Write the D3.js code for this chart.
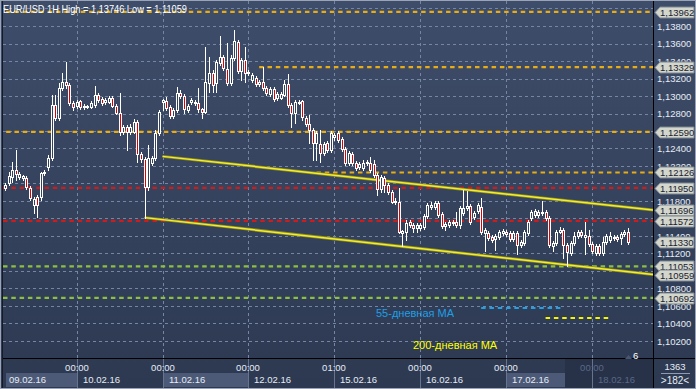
<!DOCTYPE html>
<html><head><meta charset="utf-8">
<script src="https://cdn.jsdelivr.net/npm/d3@7"></script>
<style>body{margin:0;background:#2f3b54;}svg{display:block;font-family:"Liberation Sans",Arial,sans-serif;}</style>
</head><body><svg id="c" width="696" height="389"></svg>
<script>
const titleText = "EUR/USD 1H High = 1,13746 Low = 1,11059";
const openP = [1.1195,1.1201,1.1207,1.1215,1.1207,1.1206,1.1206,1.1195,1.1175,1.1185,1.1185,1.1212,1.1219,1.1229,1.1290,1.1275,1.1309,1.1316,1.1313,1.1292,1.1289,1.1294,1.1287,1.1287,1.1287,1.1290,1.1301,1.1297,1.1293,1.1293,1.1298,1.1289,1.1281,1.1259,1.1265,1.1259,1.1259,1.1270,1.1234,1.1228,1.1196,1.1223,1.1229,1.1258,1.1293,1.1294,1.1287,1.1277,1.1284,1.1303,1.1300,1.1284,1.1293,1.1292,1.1292,1.1285,1.1282,1.1315,1.1326,1.1315,1.1338,1.1345,1.1331,1.1315,1.1343,1.1362,1.1329,1.1341,1.1326,1.1318,1.1321,1.1314,1.1316,1.1309,1.1302,1.1308,1.1298,1.1298,1.1301,1.1314,1.1290,1.1281,1.1292,1.1294,1.1275,1.1268,1.1261,1.1246,1.1245,1.1235,1.1246,1.1238,1.1253,1.1258,1.1251,1.1239,1.1223,1.1234,1.1223,1.1219,1.1218,1.1223,1.1223,1.1222,1.1210,1.1194,1.1206,1.1198,1.1190,1.1179,1.1179,1.1143,1.1145,1.1156,1.1153,1.1149,1.1149,1.1150,1.1163,1.1173,1.1173,1.1178,1.1165,1.1151,1.1153,1.1155,1.1156,1.1153,1.1166,1.1172,1.1174,1.1162,1.1169,1.1173,1.1143,1.1143,1.1139,1.1137,1.1139,1.1143,1.1145,1.1143,1.1137,1.1143,1.1130,1.1132,1.1143,1.1161,1.1164,1.1164,1.1166,1.1167,1.1161,1.1129,1.1132,1.1145,1.1147,1.1130,1.1121,1.1132,1.1140,1.1145,1.1139,1.1140,1.1131,1.1121,1.1129,1.1121,1.1133,1.1135,1.1138,1.1139,1.1138,1.1142,1.1145];
const highP = [1.1201,1.1213,1.1225,1.1238,1.1213,1.1210,1.1209,1.1197,1.1185,1.1187,1.1213,1.1215,1.1233,1.1301,1.1301,1.1315,1.1326,1.1339,1.1315,1.1294,1.1295,1.1295,1.1291,1.1290,1.1294,1.1311,1.1303,1.1299,1.1298,1.1300,1.1300,1.1291,1.1303,1.1267,1.1267,1.1268,1.1274,1.1273,1.1236,1.1230,1.1244,1.1231,1.1261,1.1284,1.1297,1.1299,1.1290,1.1286,1.1310,1.1307,1.1302,1.1291,1.1298,1.1295,1.1309,1.1286,1.1356,1.1345,1.1330,1.1341,1.1369,1.1347,1.1361,1.1347,1.1375,1.1364,1.1343,1.1356,1.1330,1.1326,1.1323,1.1318,1.1333,1.1311,1.1310,1.1310,1.1305,1.1305,1.1318,1.1325,1.1292,1.1295,1.1295,1.1295,1.1277,1.1278,1.1263,1.1260,1.1261,1.1247,1.1249,1.1260,1.1258,1.1260,1.1253,1.1242,1.1237,1.1236,1.1226,1.1225,1.1227,1.1227,1.1230,1.1227,1.1212,1.1210,1.1209,1.1201,1.1193,1.1183,1.1195,1.1147,1.1158,1.1158,1.1155,1.1155,1.1155,1.1165,1.1178,1.1179,1.1180,1.1180,1.1167,1.1156,1.1158,1.1158,1.1167,1.1174,1.1193,1.1191,1.1177,1.1169,1.1178,1.1183,1.1149,1.1146,1.1141,1.1142,1.1147,1.1148,1.1147,1.1146,1.1146,1.1146,1.1135,1.1147,1.1158,1.1170,1.1171,1.1170,1.1180,1.1170,1.1163,1.1134,1.1147,1.1150,1.1149,1.1132,1.1134,1.1145,1.1147,1.1147,1.1156,1.1147,1.1133,1.1131,1.1131,1.1139,1.1142,1.1145,1.1141,1.1141,1.1145,1.1147,1.1149];
const lowP = [1.1193,1.1198,1.1202,1.1204,1.1205,1.1204,1.1194,1.1181,1.1166,1.1162,1.1181,1.1210,1.1215,1.1227,1.1273,1.1273,1.1307,1.1309,1.1290,1.1284,1.1286,1.1285,1.1285,1.1286,1.1286,1.1287,1.1293,1.1290,1.1291,1.1292,1.1287,1.1279,1.1255,1.1257,1.1238,1.1257,1.1258,1.1225,1.1225,1.1161,1.1193,1.1221,1.1227,1.1255,1.1284,1.1284,1.1275,1.1275,1.1282,1.1298,1.1281,1.1282,1.1291,1.1290,1.1282,1.1275,1.1281,1.1305,1.1305,1.1305,1.1335,1.1330,1.1313,1.1313,1.1341,1.1326,1.1318,1.1316,1.1324,1.1316,1.1311,1.1311,1.1307,1.1301,1.1300,1.1294,1.1295,1.1297,1.1300,1.1287,1.1265,1.1269,1.1291,1.1273,1.1266,1.1246,1.1227,1.1227,1.1225,1.1233,1.1236,1.1236,1.1250,1.1247,1.1237,1.1221,1.1221,1.1221,1.1215,1.1217,1.1215,1.1221,1.1213,1.1207,1.1187,1.1190,1.1190,1.1188,1.1178,1.1177,1.1143,1.1129,1.1135,1.1150,1.1145,1.1145,1.1147,1.1148,1.1161,1.1171,1.1171,1.1162,1.1149,1.1147,1.1150,1.1153,1.1150,1.1149,1.1164,1.1170,1.1154,1.1159,1.1166,1.1142,1.1123,1.1135,1.1133,1.1124,1.1137,1.1141,1.1140,1.1134,1.1134,1.1119,1.1127,1.1130,1.1141,1.1158,1.1162,1.1162,1.1164,1.1158,1.1127,1.1123,1.1130,1.1143,1.1115,1.1106,1.1118,1.1130,1.1138,1.1139,1.1119,1.1129,1.1121,1.1118,1.1118,1.1118,1.1131,1.1133,1.1135,1.1134,1.1131,1.1140,1.1131];
const closeP = [1.1198,1.1209,1.1215,1.1211,1.1211,1.1209,1.1196,1.1183,1.1182,1.1175,1.1212,1.1213,1.1229,1.1290,1.1275,1.1309,1.1316,1.1313,1.1292,1.1287,1.1293,1.1287,1.1289,1.1289,1.1292,1.1301,1.1295,1.1292,1.1295,1.1298,1.1289,1.1281,1.1259,1.1265,1.1259,1.1265,1.1270,1.1234,1.1228,1.1196,1.1229,1.1229,1.1258,1.1282,1.1295,1.1286,1.1277,1.1284,1.1303,1.1300,1.1285,1.1289,1.1295,1.1293,1.1285,1.1282,1.1316,1.1326,1.1313,1.1339,1.1345,1.1332,1.1315,1.1343,1.1363,1.1329,1.1341,1.1326,1.1327,1.1324,1.1314,1.1316,1.1309,1.1303,1.1308,1.1297,1.1302,1.1302,1.1314,1.1290,1.1281,1.1293,1.1293,1.1276,1.1268,1.1261,1.1246,1.1258,1.1235,1.1245,1.1238,1.1258,1.1255,1.1250,1.1239,1.1223,1.1235,1.1223,1.1218,1.1222,1.1223,1.1225,1.1215,1.1210,1.1194,1.1207,1.1198,1.1190,1.1179,1.1180,1.1145,1.1146,1.1155,1.1153,1.1149,1.1153,1.1153,1.1163,1.1175,1.1175,1.1178,1.1164,1.1151,1.1154,1.1156,1.1156,1.1153,1.1172,1.1172,1.1174,1.1156,1.1166,1.1175,1.1145,1.1147,1.1138,1.1135,1.1140,1.1145,1.1146,1.1142,1.1137,1.1143,1.1130,1.1133,1.1145,1.1156,1.1167,1.1169,1.1167,1.1167,1.1161,1.1130,1.1132,1.1145,1.1147,1.1130,1.1122,1.1132,1.1140,1.1145,1.1141,1.1141,1.1131,1.1123,1.1129,1.1121,1.1133,1.1140,1.1140,1.1139,1.1137,1.1142,1.1145,1.1133];

const gridTicks = [1.140,1.138,1.136,1.134,1.132,1.130,1.128,1.126,1.124,1.122,1.120,1.118,1.116,1.114,1.112,1.110,1.108,1.106,1.104,1.102];
const timeTickBars = [20,44,68,92,116,140,164];
const timeTickLabels = ["00:00","00:00","00:00","01:00","00:00","00:00","00:00"];
const dateLabels = ["09.02.16","10.02.16","11.02.16","12.02.16","15.02.16","16.02.16","17.02.16","18.02.16"];

const orangeLevels = [1.13962,1.13329,1.12590,1.12126];
const orangeStartBar = [-2,71,-2,87];
const redLevels = [1.11950,1.11572];
const greenLevels = [1.11053,1.10692];
const ma55 = [1.10577]; const ma55Bars = [133,156];
const ma200 = [1.10463]; const ma200Bars = [151,169];
const channelUpper = [[44,1.1231],[181,1.11696]];
const channelLower = [[39,1.1161],[181,1.10959]];
const priceTags = [1.13962,1.13329,1.12590,1.12126,1.11950,1.11696,1.11572,1.11330,1.11053,1.10959,1.10692];
const barsCount = "1363", visibleBars = ">182<", shiftLabel = "6";
const ma55Label = "55-дневная МА", ma200Label = "200-дневная МА";

const W = 696, H = 389;
const PL = 3, PR = 653, PT = 1, PB = 358;
const svg = d3.select('#c');
const defs = svg.append('defs');
const bg = defs.append('linearGradient').attr('id','bg').attr('x1',0).attr('y1',0).attr('x2',0).attr('y2',1);
bg.append('stop').attr('offset','0%').attr('stop-color','#3e4d6a');
bg.append('stop').attr('offset','100%').attr('stop-color','#2d3951');
defs.append('clipPath').attr('id','clip').append('rect').attr('x',PL).attr('y',PT).attr('width',PR-PL).attr('height',PB-PT);

svg.append('rect').attr('width',W).attr('height',H).attr('fill','url(#bg)');

const x = d3.scaleLinear().domain([0,181]).range([5,653]);
const y = d3.scaleLinear().domain([1.138,1.102]).range([26,341]);
const fmt = v => d3.format('.5f')(v).replace('.',',');
const px = v => Math.round(v);

// x-axis panel decorations
const axisG = svg.append('g');
axisG.append('rect').attr('x',6).attr('y',373).attr('width',px(x(timeTickBars[0]))-6).attr('height',14).attr('fill','#4c5a77');
axisG.append('rect').attr('x',px(x(timeTickBars[1]))).attr('y',373).attr('width',px(x(timeTickBars[2]))-px(x(timeTickBars[1]))).attr('height',14).attr('fill','#4c5a77');
axisG.append('rect').attr('x',px(x(timeTickBars[5]))).attr('y',373).attr('width',565-px(x(timeTickBars[5]))).attr('height',14).attr('fill','#4c5a77');
axisG.append('rect').attr('x',565).attr('y',359).attr('width',PR-565).attr('height',29).attr('fill','#273249');

const plot = svg.append('g').attr('clip-path','url(#clip)');
// grid
plot.selectAll('.hg').data(gridTicks).enter().append('line')
  .attr('x1',PL).attr('x2',PR).attr('y1',d=>px(y(d))+0.5).attr('y2',d=>px(y(d))+0.5)
  .attr('stroke','#7585a3').attr('stroke-width',1).attr('stroke-dasharray','3,3');
plot.selectAll('.vg').data(timeTickBars).enter().append('line')
  .attr('x1',d=>px(x(d))+0.5).attr('x2',d=>px(x(d))+0.5).attr('y1',PT).attr('y2',PB)
  .attr('stroke','#7585a3').attr('stroke-width',1).attr('stroke-dasharray','3,3');
// x-axis separators
svg.selectAll('.vs').data(timeTickBars).enter().append('line')
  .attr('x1',d=>px(x(d))+0.5).attr('x2',d=>px(x(d))+0.5).attr('y1',PB+1).attr('y2',388)
  .attr('stroke','#66748f').attr('stroke-width',1);

// level lines
const lvl = (price, x1, color) => plot.append('line')
  .attr('x1',x1).attr('x2',PR).attr('y1',y(price)).attr('y2',y(price))
  .attr('stroke',color).attr('stroke-width',2.2).attr('stroke-dasharray','4.5,3.8');
orangeLevels.forEach((p,i)=>lvl(p, x(orangeStartBar[i]), '#e8ad14'));
redLevels.forEach(p=>lvl(p, PL, '#cc1c1c'));
greenLevels.forEach(p=>lvl(p, PL, '#8cc043'));
plot.append('line').attr('x1',x(ma55Bars[0])).attr('x2',x(ma55Bars[1])).attr('y1',y(ma55[0])).attr('y2',y(ma55[0]))
  .attr('stroke','#1ea2e8').attr('stroke-width',2.2).attr('stroke-dasharray','4.5,3.8');
plot.append('line').attr('x1',x(ma200Bars[0])).attr('x2',x(ma200Bars[1])).attr('y1',y(ma200[0])).attr('y2',y(ma200[0]))
  .attr('stroke','#f5f500').attr('stroke-width',2.2).attr('stroke-dasharray','4.5,3.8');

// channel
const ln = d3.line().x(d=>x(d[0])).y(d=>y(d[1]));
[channelUpper, channelLower].forEach(c=>{
  plot.append('path').attr('d',ln(c)).attr('fill','none').attr('stroke','#8c8a2a').attr('stroke-width',3);
  plot.append('path').attr('d',ln(c)).attr('fill','none').attr('stroke','#f2ee2a').attr('stroke-width',1.5);
});

// candles
const idx = d3.range(openP.length);
const cg = plot.append('g');
cg.selectAll('.wk').data(idx).enter().append('line')
  .attr('x1',i=>px(x(i))+0.5).attr('x2',i=>px(x(i))+0.5)
  .attr('y1',i=>px(y(highP[i]))).attr('y2',i=>px(y(lowP[i]))+1)
  .attr('stroke','#ffffff').attr('stroke-width',1);
cg.selectAll('.bd').data(idx).enter().append('rect')
  .attr('x',i=>px(x(i))-0.5).attr('width',2)
  .attr('y',i=>px(y(Math.max(openP[i],closeP[i])))+0.5)
  .attr('height',i=>Math.max(1,px(y(Math.min(openP[i],closeP[i])))-px(y(Math.max(openP[i],closeP[i])))))
  .attr('fill',i=>closeP[i]<openP[i]?'#e00000':'#34425c')
  .attr('stroke','#ffffff').attr('stroke-width',1);

// frame lines
svg.append('line').attr('x1',PR+0.5).attr('x2',PR+0.5).attr('y1',0).attr('y2',H).attr('stroke','#000').attr('stroke-width',1);
svg.append('line').attr('x1',PL).attr('x2',W).attr('y1',PB+0.5).attr('y2',PB+0.5).attr('stroke','#000').attr('stroke-width',1);
svg.append('line').attr('x1',2.5).attr('x2',2.5).attr('y1',0).attr('y2',H).attr('stroke','#141a26').attr('stroke-width',1);
svg.append('rect').attr('x',0.5).attr('y',0.5).attr('width',W-1).attr('height',H-1).attr('fill','none').attr('stroke','#9aa4b6').attr('stroke-width',1);

// title
svg.append('text').attr('x',3).attr('y',13).attr('fill','#ffffff').attr('font-size',10.5)
  .attr('textLength',184).attr('lengthAdjust','spacingAndGlyphs').text(titleText);

// MA labels
svg.append('text').attr('x',376).attr('y',317).attr('fill','#1e9fe6').attr('font-size',11).text(ma55Label);
svg.append('text').attr('x',413).attr('y',349).attr('fill','#ffff00').attr('font-size',11).text(ma200Label);

// right axis labels (labels fully covered by a price tag are not drawn)
const visibleTicks = gridTicks.filter(t=>y(t)>14 && y(t)<350 && priceTags.every(p=>Math.abs(y(p)-y(t))>=5));
svg.selectAll('.yl').data(visibleTicks).enter().append('text')
  .attr('x',657).attr('y',d=>y(d)+3.5).attr('fill','#e6ecf5').attr('font-size',9.5).text(d=>fmt(d));
// price tags
const tg = svg.selectAll('.tag').data(priceTags).enter().append('g');
tg.append('path').attr('d',d=>{const c=px(y(d))+0.5;return `M655,${c} L660,${c-5.5} L694,${c-5.5} L694,${c+5.5} L660,${c+5.5} Z`;})
  .attr('fill','#d3d6cc').attr('stroke','#7d8590').attr('stroke-width',1);
tg.append('text').attr('x',660).attr('y',d=>px(y(d))+4).attr('fill','#1a2230').attr('font-size',9.5).text(d=>fmt(d));

// x axis labels
svg.selectAll('.tl').data(timeTickBars).enter().append('text')
  .attr('x',d=>px(x(d))).attr('y',371).attr('text-anchor','middle').attr('font-size',9.5)
  .attr('fill',(d,i)=>i===6?'#5a6885':'#e6ecf5').text((d,i)=>timeTickLabels[i]);
const dateX = [3].concat(timeTickBars.map(d=>px(x(d))));
svg.selectAll('.dl').data(dateLabels).enter().append('text')
  .attr('x',(d,i)=>dateX[i]+6).attr('y',383).attr('font-size',9.5)
  .attr('fill',(d,i)=>i===7?'#5a6885':'#e6ecf5').text(d=>d);

// bottom-right box
svg.append('text').attr('x',675).attr('y',370).attr('text-anchor','middle').attr('font-size',9.5).attr('fill','#e6ecf5').text(barsCount);
svg.append('line').attr('x1',661).attr('x2',690).attr('y1',373.5).attr('y2',373.5).attr('stroke','#8e9ab0');
svg.append('text').attr('x',675).attr('y',384).attr('text-anchor','middle').attr('font-size',10).attr('fill','#e6ecf5').text(visibleBars);
// shift marker
svg.append('path').attr('d','M625,359 L628.5,355 L632,359 Z').attr('fill','#4a5670');
svg.append('text').attr('x',633).attr('y',359).attr('font-size',9.5).attr('fill','#ffffff').text(shiftLabel);
</script></body></html>
